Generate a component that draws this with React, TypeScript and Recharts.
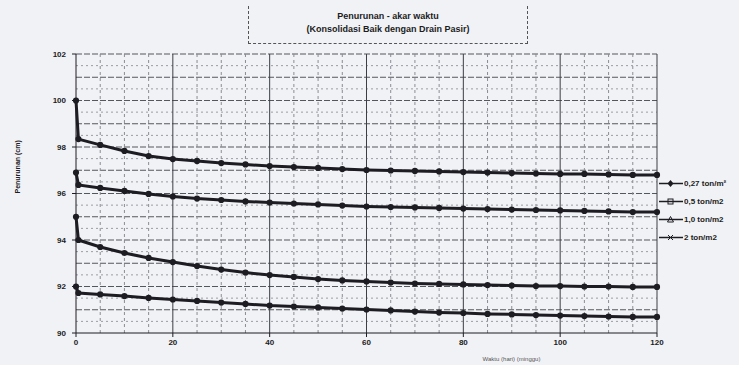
import { LineChart, Line, XAxis, YAxis, ReferenceLine, Legend, Label } from "recharts";

// waktu (hari), titik awal dan titik pertama setelah pembebanan
const days = [0, 0.5, 5, 10, 15, 20, 25, 30, 35, 40, 45, 50, 55, 60, 65, 70, 75, 80, 85, 90, 95, 100, 105, 110, 115, 120];

const load027 = [100, 98.34, 98.09, 97.83, 97.61, 97.48, 97.4, 97.31, 97.25, 97.18, 97.14, 97.1, 97.05, 97.01, 96.99, 96.97, 96.95, 96.92, 96.9, 96.88, 96.86, 96.84, 96.84, 96.82, 96.8, 96.8];
const load05 = [96.9, 96.37, 96.24, 96.11, 95.98, 95.87, 95.78, 95.72, 95.66, 95.61, 95.57, 95.53, 95.48, 95.44, 95.42, 95.4, 95.38, 95.35, 95.33, 95.31, 95.29, 95.27, 95.25, 95.23, 95.2, 95.2];
const load10 = [95.0, 94.0, 93.7, 93.44, 93.23, 93.05, 92.88, 92.73, 92.6, 92.49, 92.41, 92.32, 92.26, 92.22, 92.17, 92.13, 92.11, 92.09, 92.06, 92.04, 92.02, 92.02, 92.0, 92.0, 91.98, 91.98];
const load20 = [92.0, 91.72, 91.66, 91.59, 91.51, 91.44, 91.38, 91.31, 91.25, 91.18, 91.14, 91.1, 91.05, 91.01, 90.97, 90.92, 90.88, 90.86, 90.82, 90.8, 90.77, 90.75, 90.73, 90.71, 90.69, 90.69];

const seriesNames = ["0,27 ton/m²", "0,5 ton/m2", "1,0 ton/m2", "2 ton/m2"];
const seriesKeys = ["s1", "s2", "s3", "s4"];
const markerShapes = ["diamond", "square", "triangle", "cross"];

const xTicks = [0, 20, 40, 60, 80, 100, 120];
const yTicks = [90, 92, 94, 96, 98, 100, 102];
const gridX = [5, 10, 15, 20, 25, 30, 35, 40, 45, 50, 55, 60, 65, 70, 75, 80, 85, 90, 95, 100, 105, 110, 115, 120];
const gridY = [90.5, 91, 91.5, 92, 92.5, 93, 93.5, 94, 94.5, 95, 95.5, 96, 96.5, 97, 97.5, 98, 98.5, 99, 99.5, 100, 100.5, 101, 101.5, 102];

const data = days.map((d, i) => ({
  day: d,
  s1: load027[i],
  s2: load05[i],
  s3: load10[i],
  s4: load20[i],
}));

const ink = "#1c1c22";

function Marker({ shape }: { shape: string }) {
  if (shape === "square") return <rect x={9} y={2} width={5} height={5} fill="none" stroke={ink} strokeWidth={1} />;
  if (shape === "triangle") return <path d="M11.5 1.5 L14.5 7 L8.5 7 Z" fill="none" stroke={ink} strokeWidth={1} />;
  if (shape === "cross") return <path d="M9 2 L14 7 M14 2 L9 7" stroke={ink} strokeWidth={1} />;
  return <path d="M11.5 1 L14.5 4.5 L11.5 8 L8.5 4.5 Z" fill={ink} />;
}

function renderLegend() {
  return (
    <div style={{ display: "flex", flexDirection: "column", gap: 6 }}>
      {seriesNames.map((n, i) => (
        <div key={n} style={{ display: "flex", alignItems: "center", height: 12 }}>
          <svg width={24} height={9}>
            <line x1={0} y1={4.5} x2={24} y2={4.5} stroke={ink} strokeWidth={1.5} />
            <Marker shape={markerShapes[i]} />
          </svg>
          <span style={{ fontSize: 8, fontWeight: 700, color: ink, marginLeft: 1, fontFamily: "Liberation Sans, Arial, sans-serif" }}>{n}</span>
        </div>
      ))}
    </div>
  );
}

export default function App() {
  return (
    <div
      style={{
        position: "absolute",
        left: 0,
        top: 0,
        width: 739,
        height: 365,
        background: "#f1f2f6",
        fontFamily: "Liberation Sans, Arial, sans-serif",
      }}
    >
      <div
        style={{
          position: "absolute",
          left: 248,
          top: 6,
          width: 280,
          height: 38,
          borderLeft: "1px dashed #555",
          borderRight: "1px dashed #555",
          borderBottom: "1px dashed #555",
          textAlign: "center",
          fontSize: 9,
          fontWeight: 700,
          color: ink,
          lineHeight: "13px",
          paddingTop: 4,
          boxSizing: "border-box",
        }}
      >
        <div>Penurunan - akar waktu</div>
        <div>(Konsolidasi Baik dengan Drain Pasir)</div>
      </div>
      <LineChart width={739} height={365} data={data} margin={{ top: 54, right: 2, bottom: 2, left: 0 }}>
        {gridY.map((v) => (
          <ReferenceLine
            key={"gy" + v}
            y={v}
            stroke={Number.isInteger(v) ? "#55575e" : "#9a9ca3"}
            strokeDasharray={Number.isInteger(v) ? "6 2" : "2 3"}
            strokeWidth={1}
          />
        ))}
        {gridX.map((v) => (
          <ReferenceLine
            key={"gx" + v}
            x={v}
            stroke={v % 20 === 0 ? "#3c3e45" : "#8a8c93"}
            strokeDasharray={v % 20 === 0 ? undefined : "3 3"}
            strokeWidth={1}
          />
        ))}
        <XAxis
          dataKey="day"
          type="number"
          domain={[0, 120]}
          ticks={xTicks}
          height={30}
          tick={{ fill: ink, fontSize: 8, fontWeight: 700 }}
          axisLine={{ stroke: ink }}
          tickLine={{ stroke: ink }}
          tickSize={4}
        >
          <Label value="Waktu (hari) (minggu)" position="insideBottom" offset={2} dx={145} style={{ fontSize: 6, fill: "#555" }} />
        </XAxis>
        <YAxis
          type="number"
          domain={[90, 102]}
          ticks={yTicks}
          width={76}
          interval={0}
          tick={{ fill: ink, fontSize: 8, fontWeight: 700 }}
          axisLine={{ stroke: ink }}
          tickLine={{ stroke: ink }}
          tickSize={4}
          tickMargin={6}
        >
          <Label value="Penurunan (cm)" angle={-90} position="insideLeft" offset={18} style={{ fontSize: 7, fill: ink, fontWeight: 700 }} />
        </YAxis>
        {seriesKeys.map((k) => (
          <Line
            key={k}
            type="linear"
            dataKey={k}
            stroke={ink}
            strokeWidth={3}
            dot={{ r: 1.6, fill: ink, stroke: ink }}
            isAnimationActive={false}
          />
        ))}
        <Legend layout="vertical" align="right" verticalAlign="top" wrapperStyle={{ top: 177, right: 0, width: 80 }} content={renderLegend} />
      </LineChart>
    </div>
  );
}
